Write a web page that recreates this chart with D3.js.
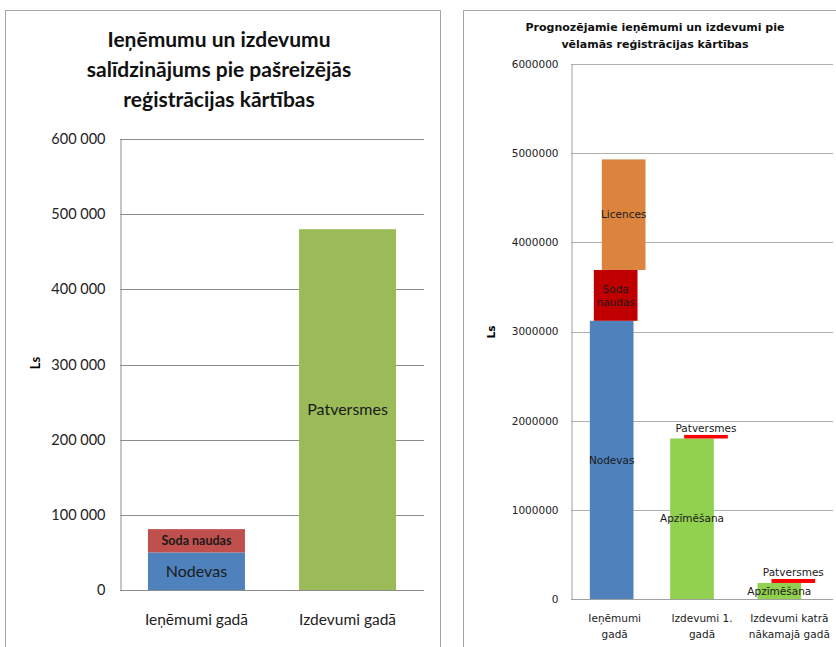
<!DOCTYPE html>
<html>
<head>
<meta charset="utf-8">
<script src="https://cdn.jsdelivr.net/npm/d3@7"></script>
<style>
  body { margin: 0; background: #fff; }
  svg { display: block; }
</style>
</head>
<body>
<div id="chart"></div>
<script>
// left chart: current registration order
var leftCats = ["Ieņēmumi gadā", "Izdevumi gadā"];
var leftNodevas = [50000, 0];
var leftSoda = [31000, 0];
var leftPatversmes = [0, 480000];
var leftTicks = [0, 100000, 200000, 300000, 400000, 500000, 600000];

// right chart: forecast with desired registration order
var rightCats = [["Ieņēmumi", "gadā"], ["Izdevumi 1.", "gadā"], ["Izdevumi katrā", "nākamajā gadā"]];
var rightNodevas = [3120000, 0, 0];
var rightSoda = [570000, 0, 0];
var rightLicences = [1240000, 0, 0];
var rightApzimesana = [0, 1800000, 180000];
var rightPatversmes = [0, 40000, 45000];
var rightTicks = [0, 1000000, 2000000, 3000000, 4000000, 5000000, 6000000];

var svg = d3.select("#chart").append("svg")
  .attr("width", 836)
  .attr("height", 647);

// panel frames
svg.append("rect").attr("x", 5.5).attr("y", 10.5).attr("width", 435).attr("height", 660)
  .attr("fill", "none").attr("stroke", "#a6a6a6");
svg.append("rect").attr("x", 463.5).attr("y", 10.5).attr("width", 400).attr("height", 660)
  .attr("fill", "none").attr("stroke", "#a6a6a6");

// ---------- left chart ----------
var lFont = "Lato, 'Open Sans', sans-serif";
var lx = d3.scaleBand().domain(leftCats).range([120, 424]).paddingInner(0.358).paddingOuter(0.185);
var ly = d3.scaleLinear().domain([0, 600000]).range([590, 139]);

var left = svg.append("g");

left.selectAll(".grid").data(leftTicks.slice(1)).enter().append("line")
  .attr("x1", 120).attr("x2", 424)
  .attr("y1", d => Math.round(ly(d)) + 0.5).attr("y2", d => Math.round(ly(d)) + 0.5)
  .attr("stroke", "#8c8c8c");

var lfmt = d => d3.format(",")(d).replace(/,/g, " ");
var lAxis = left.append("g").attr("transform", "translate(120.5,0)")
  .call(d3.axisLeft(ly).tickValues(leftTicks).tickFormat(lfmt).tickSize(0).tickPadding(15));
lAxis.select(".domain").attr("stroke", "#8c8c8c");
lAxis.selectAll("text").attr("font-family", lFont).attr("font-size", 14.5).attr("fill", "#222");

var lxAxis = left.append("g").attr("transform", "translate(0,590.5)")
  .call(d3.axisBottom(lx).tickSize(0).tickPadding(23));
lxAxis.select(".domain").attr("stroke", "#8c8c8c").attr("d", "M120,0H424");
lxAxis.selectAll("text").attr("font-family", lFont).attr("font-size", 15.5).attr("fill", "#222");

var leftStack = d3.stack().keys(["Nodevas", "Soda naudas", "Patversmes"])(
  leftCats.map((c, i) => ({ cat: c, "Nodevas": leftNodevas[i], "Soda naudas": leftSoda[i], "Patversmes": leftPatversmes[i] })));
var lColors = { "Nodevas": "#4f81bd", "Soda naudas": "#c0504d", "Patversmes": "#9bbb59" };

leftStack.forEach(function(s) {
  s.forEach(function(d) {
    if (d[1] - d[0] <= 0) return;
    left.append("rect")
      .attr("x", lx(d.data.cat)).attr("width", lx.bandwidth())
      .attr("y", ly(d[1])).attr("height", ly(d[0]) - ly(d[1]))
      .attr("fill", lColors[s.key]);
    var t = left.append("text")
      .attr("x", lx(d.data.cat) + lx.bandwidth() / 2)
      .attr("y", (ly(d[0]) + ly(d[1])) / 2)
      .attr("dy", "0.35em")
      .attr("text-anchor", "middle")
      .attr("font-family", lFont)
      .attr("fill", "#1a1a1a")
      .text(s.key);
    if (s.key === "Soda naudas") t.attr("font-size", 12.5).attr("font-weight", "bold");
    else t.attr("font-size", 16);
  });
});

left.append("text")
  .attr("transform", "translate(40,363) rotate(-90)")
  .attr("text-anchor", "middle")
  .attr("font-family", lFont).attr("font-size", 13).attr("font-weight", "bold")
  .text("Ls");

var lTitle = ["Ieņēmumu un izdevumu", "salīdzinājums pie pašreizējās", "reģistrācijas kārtības"];
left.append("text").attr("text-anchor", "middle")
  .attr("font-family", lFont).attr("font-size", 21).attr("font-weight", "bold").attr("fill", "#111")
  .selectAll("tspan").data(lTitle).enter().append("tspan")
  .attr("x", 219).attr("y", (d, i) => 47 + i * 30).text(d => d);

// ---------- right chart ----------
var rFont = "'DejaVu Sans', Verdana, sans-serif";
var rx = d3.scaleBand().domain(d3.range(rightCats.length)).range([571, 833]).paddingInner(0.5).paddingOuter(0.25);
var ry = d3.scaleLinear().domain([0, 6000000]).range([599, 64]);

var right = svg.append("g");

right.selectAll(".grid").data(rightTicks.slice(1)).enter().append("line")
  .attr("x1", 571).attr("x2", 833)
  .attr("y1", d => Math.round(ry(d)) + 0.5).attr("y2", d => Math.round(ry(d)) + 0.5)
  .attr("stroke", "#b0b0b0");

var rAxis = right.append("g").attr("transform", "translate(571.5,0)")
  .call(d3.axisLeft(ry).tickValues(rightTicks).tickFormat(d3.format("d")).tickSize(0).tickPadding(13));
rAxis.select(".domain").attr("stroke", "#a0a0a0");
rAxis.selectAll("text").attr("font-family", rFont).attr("font-size", 10.5).attr("fill", "#222");

var rxAxis = right.append("g").attr("transform", "translate(0,599.5)")
  .call(d3.axisBottom(rx).tickSize(0).tickPadding(0).tickFormat(""));
rxAxis.select(".domain").attr("stroke", "#a0a0a0").attr("d", "M571,0H833");
rxAxis.selectAll(".tick").append("text")
  .attr("text-anchor", "middle")
  .attr("font-family", rFont).attr("font-size", 10.5).attr("fill", "#222")
  .selectAll("tspan").data(d => rightCats[d]).enter().append("tspan")
  .attr("x", 0).attr("y", (d, i) => 22 + i * 16).text(d => d);

var rKeys = ["Nodevas", "Soda naudas", "Licences", "Apzīmēšana", "Patversmes"];
var rVals = { "Nodevas": rightNodevas, "Soda naudas": rightSoda, "Licences": rightLicences, "Apzīmēšana": rightApzimesana, "Patversmes": rightPatversmes };
var rightStack = d3.stack().keys(rKeys)(
  rightCats.map(function(c, i) {
    var o = { idx: i };
    rKeys.forEach(k => { o[k] = rVals[k][i]; });
    return o;
  }));
var rColors = { "Nodevas": "#4f81bd", "Soda naudas": "#c00000", "Licences": "#dc843e", "Apzīmēšana": "#92d050", "Patversmes": "#ff0000" };
var rShift = { "Nodevas": -3, "Soda naudas": 1, "Licences": 9, "Apzīmēšana": -10, "Patversmes": 4 };

rightStack.forEach(function(s) {
  s.forEach(function(d) {
    if (d[1] - d[0] <= 0) return;
    var x0 = rx(d.data.idx) + rShift[s.key];
    right.append("rect")
      .attr("x", x0).attr("width", rx.bandwidth())
      .attr("y", ry(d[1])).attr("height", ry(d[0]) - ry(d[1]))
      .attr("fill", rColors[s.key]);
    var cx = x0 + rx.bandwidth() / 2;
    var lines = s.key === "Soda naudas" ? ["Soda", "naudas"] : [s.key];
    var cy = s.key === "Patversmes" ? ry(d[1]) - 7 : (ry(d[0]) + ry(d[1])) / 2;
    right.append("text")
      .attr("text-anchor", "middle")
      .attr("font-family", rFont).attr("font-size", 10.5).attr("fill", "#1a1a1a")
      .selectAll("tspan").data(lines).enter().append("tspan")
      .attr("x", cx)
      .attr("y", (t, i) => cy + (i - (lines.length - 1) / 2) * 13)
      .attr("dy", "0.35em")
      .text(t => t);
  });
});

right.append("text")
  .attr("transform", "translate(495,332) rotate(-90)")
  .attr("text-anchor", "middle")
  .attr("font-family", rFont).attr("font-size", 10.5).attr("font-weight", "bold")
  .text("Ls");

var rTitle = ["Prognozējamie ieņēmumi un izdevumi pie", "vēlamās reģistrācijas kārtības"];
right.append("text").attr("text-anchor", "middle")
  .attr("font-family", rFont).attr("font-size", 11).attr("font-weight", "bold").attr("fill", "#111")
  .selectAll("tspan").data(rTitle).enter().append("tspan")
  .attr("x", 655).attr("y", (d, i) => 31 + i * 17).text(d => d);
</script>
</body>
</html>
